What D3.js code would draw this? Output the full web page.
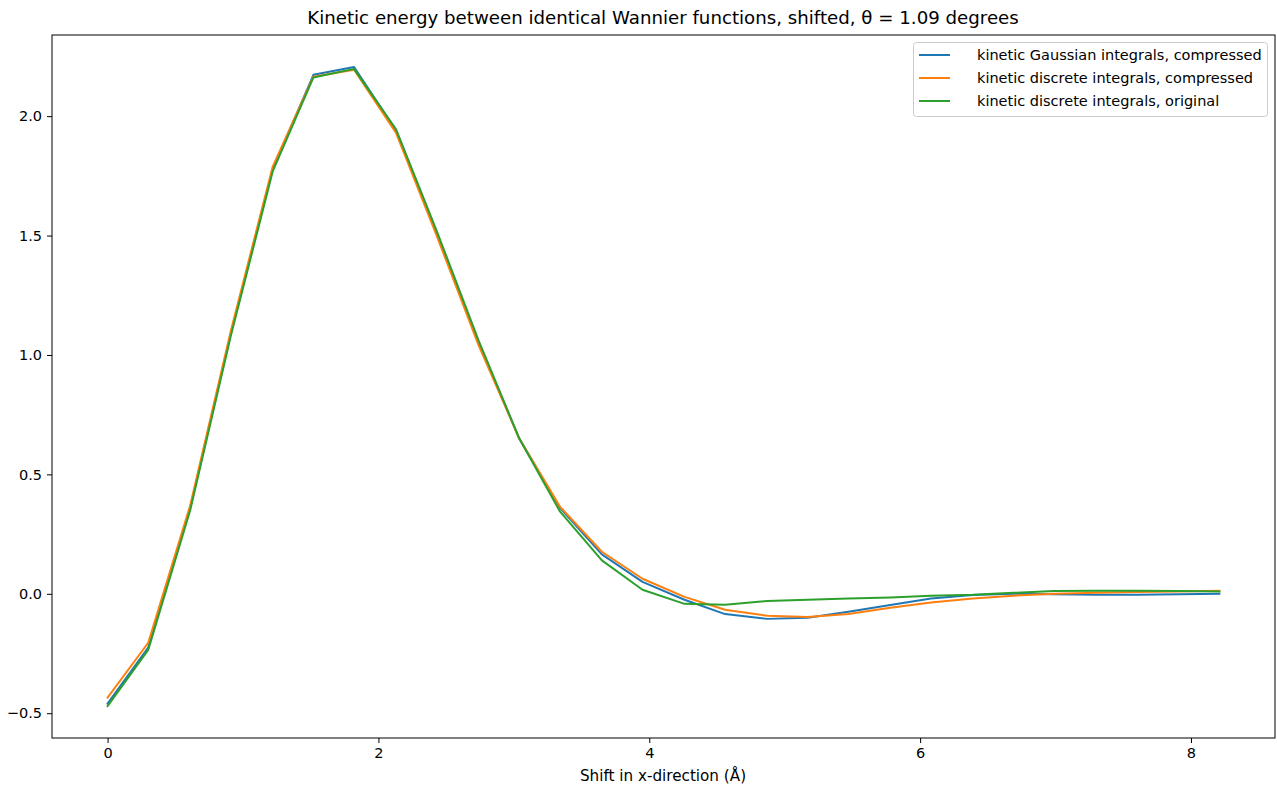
<!DOCTYPE html>
<html>
<head>
<meta charset="utf-8">
<script src="https://cdn.jsdelivr.net/npm/d3@7"></script>
<style>
  body { margin: 0; background: #fff; }
  svg { display: block; }
  text { font-family: "DejaVu Sans", sans-serif; fill: #000; }
</style>
</head>
<body>
<svg id="chart" width="1277" height="787"></svg>
<script>
const shifts = [0.00,0.30,0.61,0.91,1.22,1.52,1.82,2.13,2.43,2.74,3.04,3.34,3.65,3.95,4.26,4.56,4.87,5.17,5.47,5.78,6.08,6.39,6.69,6.99,7.30,7.60,7.91,8.21];
const gaussCompressed = [-0.460,-0.225,0.360,1.090,1.780,2.173,2.206,1.940,1.510,1.050,0.650,0.360,0.165,0.050,-0.025,-0.085,-0.105,-0.100,-0.075,-0.047,-0.020,-0.005,0.000,-0.002,-0.004,-0.004,-0.002,0.000];
const discreteCompressed = [-0.435,-0.205,0.370,1.100,1.790,2.165,2.194,1.930,1.500,1.040,0.650,0.365,0.176,0.063,-0.013,-0.067,-0.092,-0.097,-0.085,-0.058,-0.036,-0.020,-0.008,0.000,0.004,0.008,0.010,0.013];
const discreteOriginal = [-0.470,-0.235,0.350,1.080,1.770,2.162,2.198,1.945,1.520,1.060,0.650,0.345,0.140,0.017,-0.042,-0.046,-0.030,-0.025,-0.020,-0.015,-0.008,-0.004,0.004,0.012,0.013,0.013,0.012,0.010];
const seriesNames = ["kinetic Gaussian integrals, compressed","kinetic discrete integrals, compressed","kinetic discrete integrals, original"];
const seriesColors = ["#1f77b4","#ff7f0e","#2ca02c"];
const xTicks = [0,2,4,6,8];
const yTicks = [-0.5,0.0,0.5,1.0,1.5,2.0];
const title = "Kinetic energy between identical Wannier functions, shifted, θ = 1.09 degrees";
const xLabel = "Shift in x-direction (Å)";

const series = [gaussCompressed, discreteCompressed, discreteOriginal];
const L = 52, R = 1275, T = 35, B = 738;
const svg = d3.select("#chart");

const xmin = d3.min(shifts), xmax = d3.max(shifts);
const xpad = (xmax - xmin) * 0.05;
const allY = series.flat();
const ymin = d3.min(allY), ymax = d3.max(allY);
const ypad = (ymax - ymin) * 0.05;

const x = d3.scaleLinear().domain([xmin - xpad, xmax + xpad]).range([L, R]);
const y = d3.scaleLinear().domain([ymin - ypad, ymax + ypad]).range([B, T]);

// lines
const line = d3.line().x((d, i) => x(shifts[i])).y(d => y(d));
const g = svg.append("g");
series.forEach((s, k) => {
  g.append("path").datum(s).attr("d", line)
    .attr("fill", "none").attr("stroke", seriesColors[k])
    .attr("stroke-width", 2).attr("stroke-linejoin", "round").attr("stroke-linecap", "square");
});

// axes
const xAxis = d3.axisBottom(x).tickValues(xTicks).tickFormat(d3.format("d")).tickSize(5).tickPadding(5);
const yAxis = d3.axisLeft(y).tickValues(yTicks).tickFormat(d3.format(".1f")).tickSize(5).tickPadding(5);
const gx = svg.append("g").attr("transform", `translate(0,${B})`).call(xAxis);
const gy = svg.append("g").attr("transform", `translate(${L},0)`).call(yAxis);
[gx, gy].forEach(a => {
  a.select(".domain").remove();
  a.selectAll(".tick line").attr("stroke", "#000").attr("stroke-width", 1);
  a.selectAll(".tick text").attr("font-size", 14.5).attr("font-family", "DejaVu Sans").attr("fill", "#000");
});
gy.selectAll(".tick text").text(d => d < 0 ? "\u2212" + Math.abs(d).toFixed(1) : d.toFixed(1));

// frame
svg.append("rect").attr("x", L).attr("y", T).attr("width", R - L).attr("height", B - T)
  .attr("fill", "none").attr("stroke", "#000").attr("stroke-width", 1);

// title and label
svg.append("text").attr("x", 663).attr("y", 24).attr("text-anchor", "middle")
  .attr("font-size", 18.2).text(title);
svg.append("text").attr("x", 663).attr("y", 781).attr("text-anchor", "middle")
  .attr("font-size", 15.2).text(xLabel);

// legend
const lg = svg.append("g");
lg.append("rect").attr("x", 913.5).attr("y", 42.5).attr("width", 354).attr("height", 74)
  .attr("rx", 3).attr("fill", "#fff").attr("fill-opacity", 0.8).attr("stroke", "#ccc");
seriesNames.forEach((n, k) => {
  const yy = 55 + k * 23;
  lg.append("line").attr("x1", 919).attr("x2", 950).attr("y1", yy).attr("y2", yy)
    .attr("stroke", seriesColors[k]).attr("stroke-width", 2);
  lg.append("text").attr("x", 977).attr("y", yy + 5).attr("font-size", 14.5).text(n);
});
</script>
</body>
</html>
